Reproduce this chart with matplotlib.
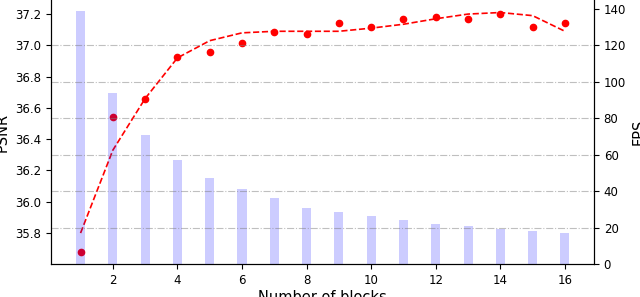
import numpy as np
import matplotlib
matplotlib.use('Agg')
from matplotlib import pyplot as plt

# number of blocks
blocks = list(range(1, 17))

# PSNR measured per configuration
psnr = [35.68, 36.54, 36.66, 36.925, 36.96, 37.015, 37.085, 37.07,
        37.14, 37.12, 37.17, 37.18, 37.17, 37.2, 37.12, 37.14]

# smoothed PSNR trend
psnr_trend = [35.80, 36.33, 36.66, 36.92, 37.03, 37.08, 37.09, 37.09,
              37.09, 37.11, 37.135, 37.17, 37.20, 37.21, 37.19, 37.09]

# FPS per configuration
fps = [139, 94, 71, 57, 47, 41, 36, 31, 28.5, 26.4, 24.2, 22, 20.6, 19, 18, 17]

fig = plt.figure(figsize=(6.4, 2.97), dpi=100)
ax1 = fig.add_axes([0.0797, 0.111, 0.8484, 0.889])

# PSNR: dots + dashed trend
ax1.plot(blocks, psnr, 'o', color='red', markersize=4.5)
ax1.plot(blocks, psnr_trend, '--', color='red', linewidth=1.2)
ax1.set_ylim(35.602, 37.29)
ax1.set_yticks([35.8, 36.0, 36.2, 36.4, 36.6, 36.8, 37.0, 37.2])
ax1.set_ylabel('PSNR', fontsize=10.5, labelpad=4)
ax1.set_xlabel('Number of blocks', fontsize=10.5, labelpad=2)
ax1.tick_params(labelsize=8.5)

# FPS bars on a twin axis
ax2 = ax1.twinx()
ax2.bar(blocks, fps, width=0.28, color='blue', alpha=0.2)
ax2.set_ylim(0, 144.9)
ax2.set_yticks(range(0, 141, 20))
ax2.set_ylabel('FPS', fontsize=10.5, labelpad=4)
ax2.tick_params(labelsize=8.5)
ax2.grid(axis='y', linestyle='-.', color='gray', alpha=0.5, linewidth=0.8)
gl = ax2.get_ygridlines()
gl[0].set_visible(False)
gl[-1].set_visible(False)

ax1.set_xlim(0.085, 16.9)
ax1.set_xticks(range(2, 17, 2))

for ax in (ax1, ax2):
    ax.spines['top'].set_visible(False)

fig.savefig('out.png', dpi=100)
